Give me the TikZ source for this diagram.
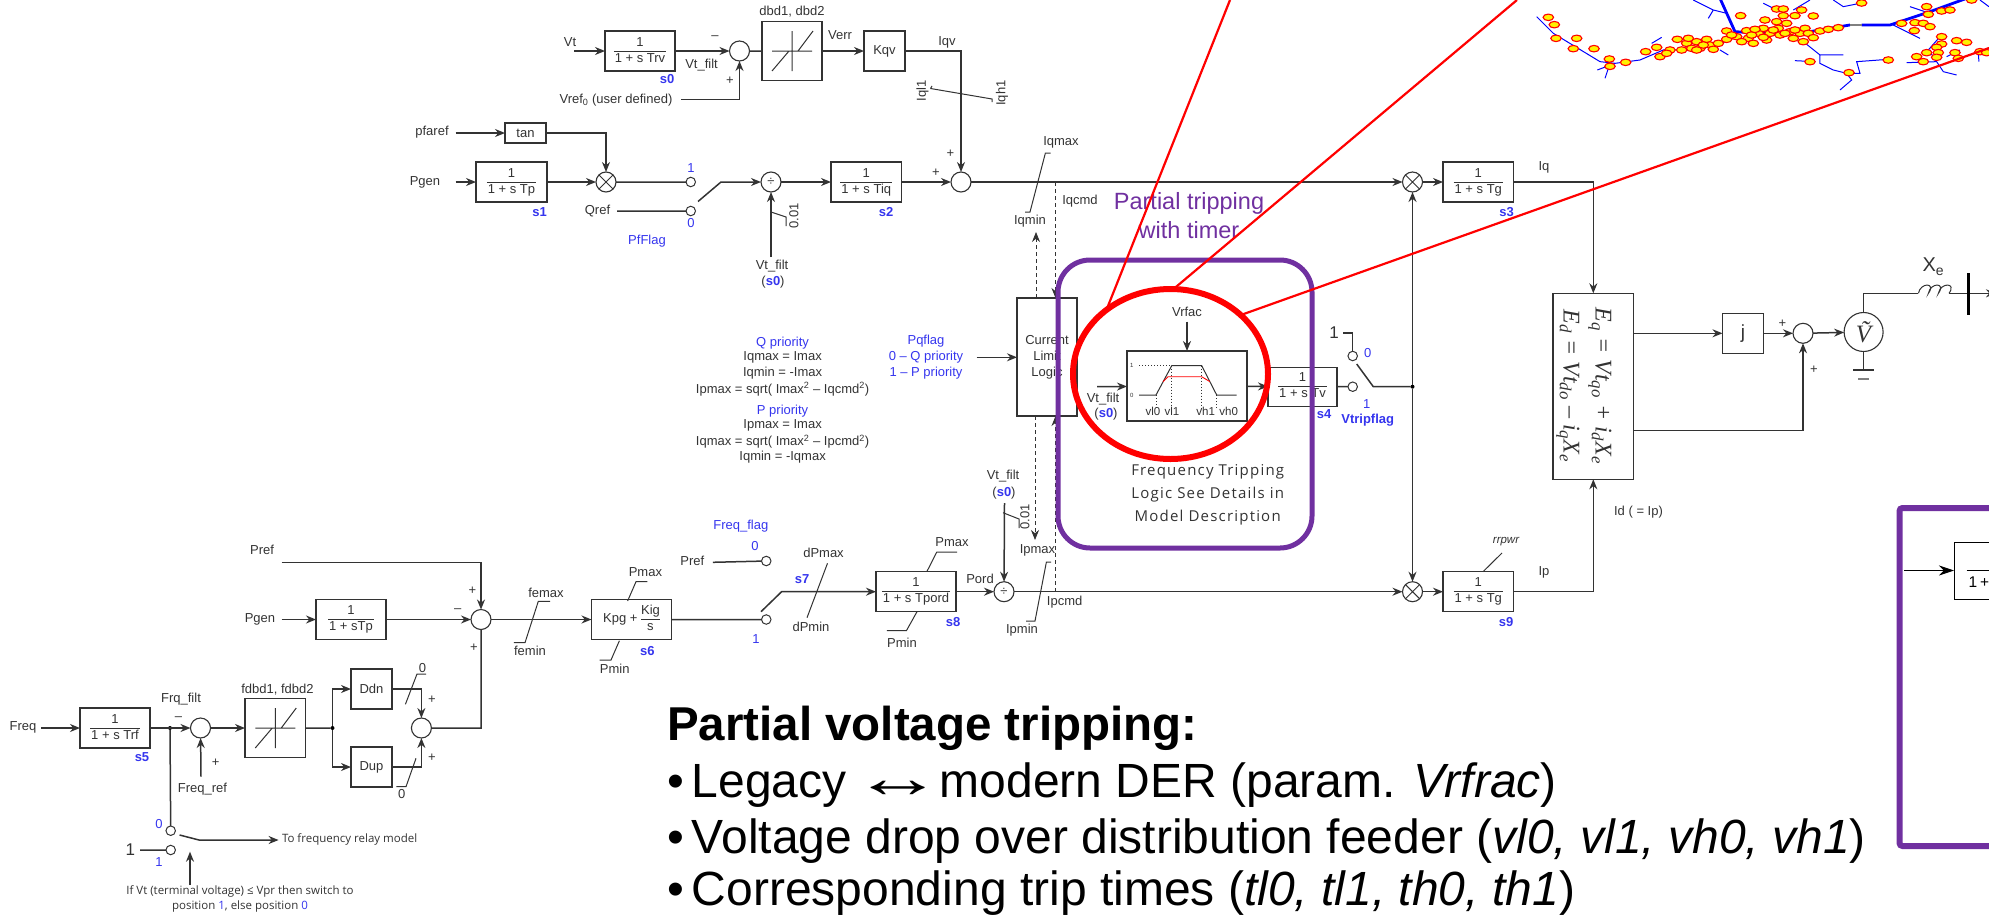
\documentclass[tikz,border=0pt]{standalone}
\usepackage{fontspec}
\setmainfont{Liberation Sans}
\newfontfamily\notefont{Open Sans}
\newfontfamily\widefont[LetterSpace=8]{Open Sans}
\newfontfamily\eqfont{Liberation Serif}
\usetikzlibrary{arrows.meta,positioning,shapes.geometric}
\definecolor{ink}{HTML}{333333}
\definecolor{flagblue}{HTML}{3535EE}
\definecolor{trimpurple}{HTML}{7030A0}
\setlength{\arrayrulewidth}{1pt}
\setlength{\tabcolsep}{1pt}
\newcommand{\lag}[1]{\begin{tabular}{c}1\\\hline #1\end{tabular}}
\newcommand{\deadband}[1]{\draw[detail] (#1) ++(-20,0) -- ++(40,0) (#1) ++(0,-20) -- ++(0,40)
 (#1) ++(-20,20) -- ++(17,-20) (#1) ++(6,0) -- ++(15,-20);}

\begin{document}
\begin{tikzpicture}[x=1pt,y=-1pt,>={Stealth[length=10pt,width=8pt]},
 every node/.style={font=\fontsize{13}{15}\selectfont,text=ink,inner sep=0pt,outer sep=0pt},
 every edge/.style={draw=ink,line width=1.5pt},
 wire/.style={draw=ink,line width=1.5pt},
 detail/.style={draw=ink,line width=1pt},
 dashwire/.style={draw=ink,line width=.8pt,dash pattern=on 4pt off 3pt},
 block/.style={draw=ink,line width=1.4pt,fill=white,minimum width=70pt,minimum height=40pt,align=center},
 sumc/.style={circle,draw=ink,line width=1.1pt,fill=white,minimum size=20pt},
 mulc/.style={sumc,path picture={\draw[detail] (path picture bounding box.north east) -- (path picture bounding box.south west)
  (path picture bounding box.north west) -- (path picture bounding box.south east);}},
 divc/.style={sumc,font=\fontsize{13}{13}\selectfont},
 contact/.style={circle,draw=ink,line width=1pt,fill=white,minimum size=9.5pt},
 junction/.style={circle,fill=black,minimum size=4pt},
 flag/.style={text=flagblue},
 stage/.style={text=flagblue,font=\fontsize{13}{15}\selectfont\bfseries},
 note/.style={font=\fontsize{11.5}{15}\notefont},
 bigline/.style={anchor=base west,text=black,font=\fontsize{48}{50}\selectfont},
 feeder/.style={draw=blue,line width=1pt},
 trunk/.style={draw=blue,line width=2.8pt},
 bus/.style={ellipse,draw=red,line width=1.1pt,fill=yellow,minimum width=10.5pt,minimum height=6.5pt}]
\clip (0,0) rectangle (1989,916);

% top row, voltage loop
\node[block] (Trv) at (640,51) {\lag{1 + s Trv}};
\node[sumc,right=54.5pt of Trv] (SumV) {};
\node[block,right=12.5pt of SumV,minimum width=60pt,minimum height=59pt] (Dbd) {};
\node[block,right=42pt of Dbd,minimum width=41pt] (Kqv) {Kqv};
\deadband{Dbd}
\coordinate (VtIn) at (574,51);
\coordinate (VrefIn) at (681,99.5);
\node (LVt) at (570,42) {Vt};
\node (LVtf) at (701.5,65) {Vt\_filt};
\node[stage] (Ls0) at (667,79.5) {s0};
\node (LDbd) at (792,11.5) {dbd1, dbd2};
\node (LVerr) at (840,35.5) {Verr};
\node (LIqv) at (947,42) {Iqv};
\node (LVref) at (616,100) {Vref\textsubscript{0} (user defined)};
\node (LVm) at (715,38) {--};
\node (LVp) at (730,80.7) {+};
\node[rotate=90] (LIql) at (922.5,91) {Iql1};
\node[rotate=90] (LIqh) at (1002,93) {Iqh1};

% second row, reactive path
\node[block] (Tan) at (525.5,133) [minimum width=41pt,minimum height=20pt] {tan};
\node[block,minimum width=71pt] (Tp) at (511.5,182) {\lag{1 + s Tp}};
\node[mulc,right=49pt of Tp] (MulQ) {};
\node[contact,right=70pt of MulQ] (ConA) {};
\node[contact,below=19.5pt of ConA] (ConB) {};
\node[divc] (DivQ) at (771,182) {÷};
\node[block,right=50pt of DivQ,minimum width=70.5pt] (Tiq) {\lag{1 + s Tiq}};
\node[sumc,right=49.5pt of Tiq] (SumQ) {};
\node[mulc] (MulIq) at (1412.5,182) {};
\node[block,right=20.5pt of MulIq,minimum width=70.5pt] (TgQ) {\lag{1 + s Tg}};
\coordinate (PfIn) at (455.5,133);
\coordinate (PgIn) at (455.5,182);
\coordinate (QrIn) at (617,211);
\coordinate (SwQa) at (698,201.5);
\coordinate (SwQb) at (721,182);
\coordinate (VdIn) at (771,257);
\node (LPfa) at (432,132.5) {pfaref};
\node (LPg) at (425,182.6) {Pgen};
\node[stage] (Ls1) at (539.5,212) {s1};
\node[flag] (LAone) at (691,168) {1};
\node (LQr) at (597.5,211) {Qref};
\node[flag] (LBzero) at (691,223) {0};
\node[flag] (LPf) at (647,241) {PfFlag};
\node[stage] (Ls2) at (886,212) {s2};
\node (LQa) at (936,173) {+};
\node (LQb) at (950.5,154) {+};
\node[rotate=90] (LEps) at (794,216) {0.01};
\node (LVtq) at (772,265.6) {Vt\_filt};
\node (LSq) at (773,282) {(\textcolor{flagblue}{\bfseries s0})};
\node (LIqx) at (1061,142) {Iqmax};
\node (LIqn) at (1030,221) {Iqmin};
\node (LIqc) at (1080,200.7) {Iqcmd};
\node (LIq) at (1544,167) {Iq};
\node[stage] (Ls3) at (1506.6,212) {s3};

% limiter in the middle
\node[block,minimum width=60pt,minimum height=118pt] (Clim) at (1047,357) {Current\\[1pt]Limit\\[1pt]Logic};
\coordinate (IqcTap) at (1055.5,182);
\coordinate (IpcTap) at (1055.5,591.7);
\coordinate (IqmHead) at (1036,232);
\coordinate (IpmHead) at (1035,540);
\coordinate (PqIn) at (976.5,357.3);
\node[flag] (LQpr) at (782.6,342.7) {Q priority};
\node (LQa1) at (782.6,357.3) {Iqmax = Imax};
\node (LQa2) at (782.6,373.3) {Iqmin = -Imax};
\node (LQa3) at (782.6,389.3) {Ipmax = sqrt( Imax\textsuperscript{2} -- Iqcmd\textsuperscript{2})};
\node[flag] (LPpr) at (782.6,411) {P priority};
\node (LPa1) at (782.6,425.7) {Ipmax = Imax};
\node (LPa2) at (782.6,441.7) {Iqmax = sqrt( Imax\textsuperscript{2} -- Ipcmd\textsuperscript{2})};
\node (LPa3) at (782.6,457.3) {Iqmin = -Iqmax};
\node[flag] (LPq0) at (926,341.3) {Pqflag};
\node[flag] (LPq1) at (926,357.3) {0 -- Q priority};
\node[flag] (LPq2) at (926,373.3) {1 -- P priority};

% voltage trip block
\node[block,minimum width=120pt,minimum height=70pt] (Trip) at (1187,386) {};
\node[block,minimum width=69pt,minimum height=39pt] (Tv) at (1302.5,386.7) {\lag{1 + s Tv}};
\node[contact] (ConT) at (1352.7,386.7) {};
\node[contact] (ConU) at (1352.7,356) {};
\node[junction] (TripDot) at (1412.5,386.7) {};
\coordinate (VrIn) at (1187,321.7);
\coordinate (VfIn) at (1097,386.7);
\coordinate (SwTa) at (1356.7,364);
\coordinate (SwTb) at (1373.3,386.7);
\coordinate (OneT) at (1343,333);
\node (LVrf) at (1187,312) {Vrfac};
\node (LVf2) at (1103,399) {Vt\_filt};
\node (LSv) at (1106,414) {(\textcolor{flagblue}{\bfseries s0})};
\node[font=\fontsize{6}{7}\selectfont] (Lhi) at (1131.7,365.7) {1};
\node[font=\fontsize{6}{7}\selectfont] (Llo) at (1131.7,395.5) {0};
\draw[detail] (1139,395) -- (1156,395) -- (1171.7,365.7) -- (1201.7,365.7) -- (1216.7,395) -- (1236.7,395);
\draw[detail,dotted] (1139,365.7) -- (1171.7,365.7) (1156,395) -- (1156,408) (1171.7,365.7) -- (1171.7,408)
 (1201.7,365.7) -- (1201.7,408) (1216.7,395) -- (1216.7,408);
\draw[red,line width=.9pt] (1163,381.7) -- (1168,376.7) -- (1201.7,376.7) -- (1210,381.7);
\node (LVl0) at (1153,411.7) {\fontsize{11.5}{13}\selectfont vl0};
\node (LVl1) at (1172,411.7) {\fontsize{11.5}{13}\selectfont vl1};
\node (LVh1) at (1205.7,411.7) {\fontsize{11.5}{13}\selectfont vh1};
\node (LVh0) at (1228.7,411.7) {\fontsize{11.5}{13}\selectfont vh0};
\node[stage] (Ls4) at (1324,414) {s4};
\node[flag] (LTone) at (1366.7,404) {1};
\node[stage] (LTf) at (1367.7,420) {Vtripflag};
\node[flag] (LTzero) at (1367.7,353) {0};
\node[font=\fontsize{17}{18}\selectfont] (LOne) at (1334,333) {1};
\node[align=center,font=\fontsize{15}{23}\widefont] (LFtrip) at (1207.7,495) {Frequency Tripping\\Logic See Details in\\Model Description};

% third row, active power path
\node[block] (Tp2) at (351,619.5) {\lag{1 + sTp}};
\node[sumc,right=85pt of Tp2] (SumP) {};
\node[block,right=100.5pt of SumP,minimum width=80pt] (Kpg) {Kpg + \begin{tabular}{@{}c@{}}Kig\\\hline s\end{tabular}};
\node[contact,right=90pt of Kpg] (ConP) {};
\node[contact,above=49pt of ConP] (ConF) {};
\node[block,minimum width=80pt] (Tpo) at (916,591.7) {\lag{1 + s Tpord}};
\node[divc,right=38pt of Tpo] (DivP) {÷};
\node[mulc] (MulIp) at (1412.5,591.7) {};
\node[block,right=20.5pt of MulIp,minimum width=70.5pt] (TgP) {\lag{1 + s Tg}};
\coordinate (PrefIn) at (281.6,562.3);
\coordinate (Pg2In) at (281.6,619.5);
\coordinate (PfRef) at (712.8,562.3);
\coordinate (SwPa) at (761,611.7);
\coordinate (SwPb) at (781.6,591.7);
\coordinate (VdIn2) at (1004.5,503);
\node (LPr) at (262,550) {Pref};
\node (LPg2) at (260,619) {Pgen};
\node (LPm) at (457.7,611) {--};
\node (LPp1) at (472.4,591) {+};
\node (LPp2) at (474,647.3) {+};
\node (LFex) at (546,592.7) {femax};
\node (LFen) at (530,651) {femin};
\node (LPx) at (645.4,572.3) {Pmax};
\node (LPn) at (614.8,668.3) {Pmin};
\node[stage] (Ls6) at (647.4,651) {s6};
\node[flag] (LPone) at (756,639.3) {1};
\node[flag] (LPzero) at (755,546) {0};
\node (LPr2) at (692.3,560.7) {Pref};
\node[flag] (LFfl) at (740.8,526) {Freq\_flag};
\node[stage] (Ls7) at (802,579.3) {s7};
\node (LDx) at (823.5,553.3) {dPmax};
\node (LDn) at (811,627.3) {dPmin};
\node (LTx) at (952,541.7) {Pmax};
\node (LTn) at (902,643) {Pmin};
\node[stage] (Ls8) at (953,621.7) {s8};
\node (LPo) at (980,579) {Pord};
\node (LVt3) at (1003,476) {Vt\_filt};
\node (LSp) at (1004,492.7) {(\textcolor{flagblue}{\bfseries s0})};
\node[rotate=90] (LEp2) at (1025,516.7) {0.01};
\node (LIpx) at (1037.5,550.7) {Ipmax};
\node (LIpn) at (1022,630) {Ipmin};
\node (LIpc) at (1064.6,601.7) {Ipcmd};
\node[stage] (Ls9) at (1506,621.7) {s9};
\node[font=\fontsize{11.5}{13}\selectfont\itshape] (LRr) at (1506,541.7) {rrpwr};
\node (LIp) at (1544,572.3) {Ip};
\node (LId) at (1638.5,511.7) {Id ( = Ip)};

% frequency row
\node[block] (Trf) at (115,728) {\lag{1 + s Trf}};
\node[sumc,right=40.5pt of Trf] (SumF) {};
\node[block,right=34.5pt of SumF,minimum width=60.5pt,minimum height=58.5pt] (Fdb) {};
\node[junction,right=25pt of Fdb] (FdbDot) {};
\node[block,minimum width=41pt] (Ddn) at (371.5,689) {Ddn};
\node[block,minimum width=41pt] (Dup) at (371.5,767) {Dup};
\node[sumc] (SumD) at (421.4,728) {};
\deadband{Fdb}
\node[junction] (FrqDot) at (170,728) {};
\node[contact] (ConR) at (170.7,830.7) {};
\node[contact] (ConS) at (170.7,850) {};
\coordinate (FrIn) at (41,728);
\coordinate (FrefIn) at (201,776.7);
\coordinate (SwFa) at (179.6,835);
\coordinate (SwFb) at (199,840);
\coordinate (RelayOut) at (278.6,840);
\coordinate (OneS) at (140,850);
\coordinate (VprIn) at (190,885);
\coordinate (VprTip) at (190,851.7);
\node (LFr) at (23,727.3) {Freq};
\node[stage] (Ls5) at (142,757.3) {s5};
\node (LFf) at (181,698.7) {Frq\_filt};
\node (LFm) at (178.6,718.7) {--};
\node (LFp) at (215.7,762.3) {+};
\node (LFrr) at (202.5,788.7) {Freq\_ref};
\node (LFdb) at (277.5,690) {fdbd1, fdbd2};
\node (LD0a) at (422.5,668.3) {0};
\node (LD0b) at (401.8,794) {0};
\node (LDp1) at (432,699.3) {+};
\node (LDp2) at (432,757.7) {+};
\node[flag] (LR0) at (159,824) {0};
\node[flag] (LS1) at (159,861.7) {1};
\node[font=\fontsize{17}{18}\selectfont] (LOneS) at (130.4,850) {1};
\node[note,anchor=west] (LRelay) at (282,839) {To frequency relay model};
\node[note,align=center] (LVpr) at (240,899) {If Vt (terminal voltage) ≤ Vpr then switch to\\position \textcolor{flagblue}{1}, else position \textcolor{flagblue}{0}};

% network output
\node[block,minimum width=80.5pt,minimum height=186pt] (Eqs) at (1593.3,386.3) {};
\node[rotate=-90,font=\fontsize{24}{26}\eqfont\itshape] (LEq) at (1600,386) {E\textsubscript{q} = Vt\textsubscript{qo} + i\textsubscript{d}X\textsubscript{e}};
\node[rotate=-90,font=\fontsize{24}{26}\eqfont\itshape] (LEd) at (1568,386) {E\textsubscript{d} = Vt\textsubscript{do} – i\textsubscript{q}X\textsubscript{e}};
\node[block,minimum width=41pt,font=\fontsize{19}{20}\selectfont] (Jay) at (1743,333.3) {j};
\node[sumc,right=29.5pt of Jay] (SumE) {};
\node[sumc,minimum size=39pt,font=\fontsize{25}{27}\eqfont\itshape] (Vsrc) at (1863.6,332) {\~V};
\coordinate (Gnd) at (1863.6,370);
\coordinate (IndL) at (1918.4,293.3);
\coordinate (IndR) at (1949,293.3);
\coordinate (BusC) at (1968,293.3);
\coordinate (BusOut) at (1996,293.3);
\node (LJp1) at (1782.4,323.3) {+};
\node (LJp2) at (1814,370) {+};
\node[font=\fontsize{20}{22}\selectfont] (LXe) at (1933.4,266.7) {X\textsubscript{e}};

% connectors
\path[->]
 (VtIn) edge (Trv)
 (Trv) edge (SumV)
 (Dbd) edge (Kqv)
 (PfIn) edge (Tan)
 (PgIn) edge (Tp)
 (Tp) edge (MulQ)
 (DivQ) edge (Tiq)
 (Tiq) edge (SumQ)
 (SumQ) edge (MulIq)
 (MulIq) edge (TgQ)
 (Pg2In) edge (Tp2)
 (Tp2) edge (SumP)
 (SumP) edge (Kpg)
 (Tpo) edge (DivP)
 (DivP) edge (MulIp)
 (MulIp) edge (TgP)
 (VrIn) edge (Trip)
 (VfIn) edge (Trip)
 (Trip) edge (Tv)
 (FrIn) edge (Trf)
 (Trf) edge (SumF)
 (SumF) edge (Fdb)
 (FrefIn) edge (SumF)
 (Eqs.east |- Jay) edge (Jay)
 (Jay) edge (SumE)
 (SumE) edge (Vsrc)
 (VdIn) edge (DivQ)
 (VdIn2) edge (DivP)
 (TripDot) edge (MulIq)
 (TripDot) edge (MulIp)
 (VprIn) edge (VprTip)
 (PqIn) edge (PqIn -| Clim.west);
\draw[wire] (SumV) -- (Dbd) (MulQ) -- (ConA) (QrIn) -- (ConB) (Kpg) -- (ConP) (PfRef) -- (ConF)
 (Tv) -- (ConT) (Fdb) -- (FdbDot) (FrqDot) -- (ConR) (OneS) -- (ConS) (SumD) -| (SumP);
\draw[wire,->] (VrefIn) -| (SumV);
\draw[wire,->] (Kqv) -| (SumQ);
\draw[wire,->] (Tan) -| (MulQ);
\draw[wire,->] (SwQa) -- (SwQb) -- (DivQ);
\draw[wire,->] (PrefIn) -| (SumP);
\draw[wire,->] (SwPa) -- (SwPb) -- (Tpo);
\draw[wire,->] (FdbDot) |- (Ddn);
\draw[wire,->] (FdbDot) |- (Dup);
\draw[wire,->] (Ddn) -| (SumD);
\draw[wire,->] (Dup) -| (SumD);
\draw[wire,->] (SwFa) -- (SwFb) -- (RelayOut);
\draw[wire,->] (TgQ) -| (Eqs);
\draw[wire,->] (TgP) -| (Eqs);
\draw[wire,->] (Eqs.east |- 0,430.3) -| (SumE);
\draw[wire] (SwTa) -- (SwTb) -- (TripDot);
\draw[wire] (OneT) -| (ConU);
\draw[wire] (Vsrc) |- (IndL) (IndR) -- (BusC);
\draw[wire,->] (BusC) -- (BusOut);
\draw[wire] (Vsrc) -- (Gnd);
\draw[wire] (Gnd) ++(-10.5,0) -- ++(21,0);
\draw[wire,line width=2pt,draw=gray] (Gnd) ++(-5.5,9) -- ++(11,0);
\draw[black,line width=3pt] (BusC) ++(0,-20) -- ++(0,42);
\draw[detail] (IndL) .. controls +(2,-11) and +(8,-11) .. ++(10,0) .. controls +(2,-11) and +(8,-11) .. ++(10,0)
 .. controls +(2,-11) and +(8,-11) .. (IndR);
\draw[dashwire,->] (Clim.north -| IqmHead) -- (IqmHead);
\draw[dashwire,->] (IqcTap) -- (IqcTap |- Clim.north);
\draw[dashwire,->] (IpcTap) -- (IpcTap |- Clim.south);
\draw[dashwire,->] (Clim.south -| IpmHead) -- (IpmHead);

% limit marks
\draw[detail] (930.5,88.5) -- (932,86) (930.5,88.5) -- (992,99) -- (992,102);
\draw[detail] (771,212) -- (786,217) -- (786,226);
\draw[detail] (1003,512.7) -- (1019,519) -- (1019,528);
\draw[detail] (1050.5,153) -- (1045.4,153) -- (1030,212) -- (1025,212);
\draw[detail] (1051,562) -- (1046.4,562) -- (1035,621) -- (1026,621);
\draw[detail] (550,601.3) -- (538.3,601.3) -- (525,642.7) -- (513.8,642.7);
\draw[detail] (647.4,581.7) -- (636,581.7) -- (627.6,601);
\draw[detail] (599.5,660) -- (611,660) -- (619.4,640.7);
\draw[detail] (827.5,563.3) -- (807,617.7);
\draw[detail] (957,552) -- (936.8,552) -- (926.8,571.7);
\draw[detail] (886.8,630.7) -- (906.4,630.7) -- (917,611.7);
\draw[detail] (1483,571.7) -- (1502,553);
\draw[detail] (426,674) -- (417,674) -- (405.4,704.3);
\draw[detail] (416,758.3) -- (406,786.7) -- (396.4,786.7);

% feeder map
\begin{scope}[shift={(1500,0)},x=.3333pt,y=-.3333pt]
\draw[trunk] (660,-5) -- (705,95) -- (860,105);
\draw[trunk] (930,95) -- (1050,75);
\draw[trunk] (1085,75) -- (1170,75) -- (1290,35) -- (1400,-5);
\draw[draw=gray,line width=2.8pt] (1050,75) -- (1085,75);
\draw[feeder] (110,50) -- (160,100) -- (300,185) -- (345,190) -- (420,180) -- (490,150) -- (560,150) -- (680,125);
\draw[feeder] (292,210) -- (345,190) (315,235) -- (325,205) (455,130) -- (485,112);
\draw[feeder] (580,0) -- (640,30) -- (680,40) (640,30) -- (625,55) (660,150) -- (685,165);
\draw[feeder] (910,125) -- (960,165) -- (1030,165) (885,182) -- (945,185) (960,165) -- (960,190) -- (1000,210)
 -- (1040,220) -- (1055,240) -- (1020,270) (1040,220) -- (1080,220) -- (1070,185) -- (1165,178);
\draw[feeder] (1000,0) -- (1030,20) -- (1085,9) (790,10) -- (830,30) (880,30) -- (930,0) (1180,75) -- (1260,115);
\draw[feeder] (1230,20) -- (1290,40) (1440,0) -- (1467,20) (1320,110) -- (1285,150) -- (1300,170) (1220,188) -- (1310,185)
 -- (1330,215) -- (1370,225) (1340,170) -- (1380,150) (1435,160) -- (1437,185);
\foreach \bx/\by [count=\bi] in {145/52,163/74,168/115,230/115,220/146,282/146,328/177,330/199,377/187,437/155,
 470/142,480/170,510/150,532/118,560/130,575/145,590/125,600/145,620/118,630/135,655/130,680/118,680/93,
 565/115,590/150,610/135,545/150,640/148,500/160,
 710/110,740/92,745/115,760/130,775/100,790/85,810/100,800/120,835/85,840/105,880/115,870/95,900/100,915/85,
 725/125,755/105,790/112,820/90,855/100,885/90,925/100,695/105,765/88,
 910/125,940/113,960/93,985/88,1015/83,830/27,850/27,905/30,850/47,885/47,940/48,795/60,830/65,860/70,722/47,
 1205/70,1245/68,1270/70,1290/80,1243/92,1280/20,1285/43,1325/33,1350/30,1415/0,1325/110,1325/132,1370/122,
 1400/127,1310/142,1280/158,1315/158,1365/158,1250/170,1270/185,1310/172,1375/175,1440/155,1460/158,
 930/185,1047/218,1165/180,1085/9}
 \node[bus] (n\bi) at (\bx,\by) {};
\end{scope}

% overlays
\node[text=trimpurple,font=\fontsize{23.5}{29}\selectfont,align=center] (LPart) at (1189,216) {Partial tripping\\with timer};
\node[draw=trimpurple,line width=5pt,rounded corners=32pt,minimum width=254pt,minimum height=288pt] (FrameT) at (1185,404) {};
\node[ellipse,draw=red,line width=6pt,minimum width=195pt,minimum height=170pt] (Ring) at (1170.5,374) {};
\coordinate (RayA) at (1230,0);
\coordinate (RayB) at (1517,0);
\coordinate (RayC) at (1989,48);
\draw[red,line width=2.2pt] (Ring.135) -- (RayA) (Ring.88) -- (RayB) (Ring.40) -- (RayC);

% right frame
\node[block,draw=black,minimum width=80pt,minimum height=57pt,line width=1pt] (TfR) at (1994,570.5) {};
\coordinate (TfIn) at (1904,570.5);
\draw[black,line width=1pt,-{Stealth[length=15pt,width=10pt]}] (TfIn) -- (TfR);
\draw[black,line width=1pt] (1966.7,570.5) -- (1995,570.5);
\node[anchor=west,text=black,font=\fontsize{15.5}{18}\selectfont] (LOneR) at (1968.5,582) {1\hspace{.2em}+};
\draw[trimpurple,line width=6pt,rounded corners=3pt] (2100,508) -- (1899.5,508) -- (1899.5,846) -- (2100,846);

% notes
\node[bigline,font=\fontsize{47.5}{50}\selectfont\bfseries] (Ltitle) at (667,740) {Partial voltage tripping:};
\node[bigline] (Lb1) at (667,797) {•\hspace{.17em}Legacy\hspace{.12em}\scalebox{1.9}[1.2]{↔}\hspace{-.08em}modern DER (param. \textit{Vrfrac})};
\node[bigline] (Lb2) at (667,853) {•\hspace{.17em}Voltage drop over distribution feeder (\textit{vl0, vl1, vh0, vh1})};
\node[bigline] (Lb3) at (667,905.5) {•\hspace{.17em}Corresponding trip times (\textit{tl0, tl1, th0, th1})};
\end{tikzpicture}
\end{document}
